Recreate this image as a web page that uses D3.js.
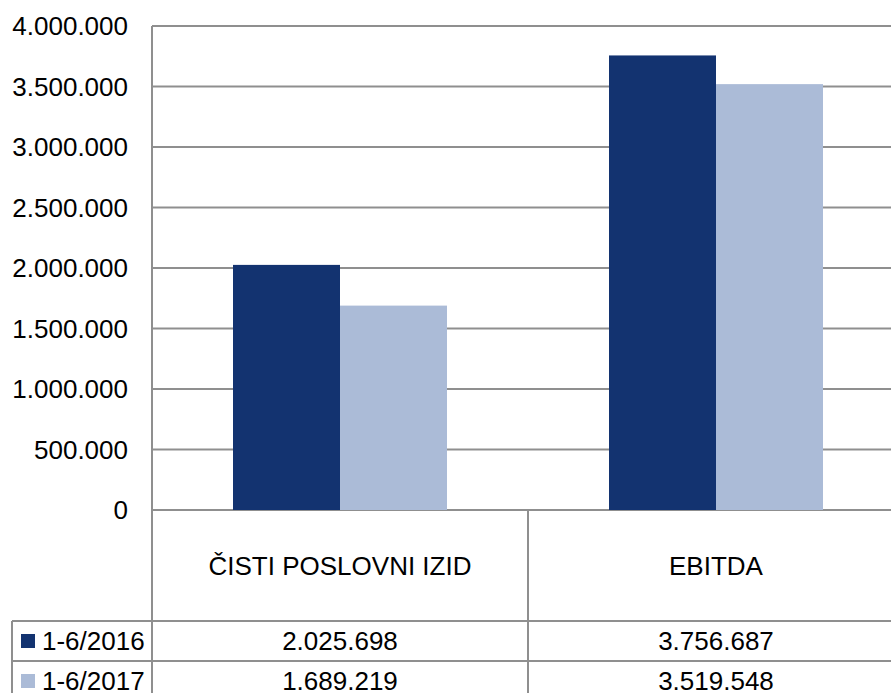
<!DOCTYPE html>
<html>
<head>
<meta charset="utf-8">
<script src="https://cdn.jsdelivr.net/npm/d3@7"></script>
<style>
  body { margin: 0; background: #fff; }
  text { font-family: "Liberation Sans", Arial, sans-serif; font-size: 26px; fill: #000; }
</style>
</head>
<body>
<svg id="chart" width="891" height="693"></svg>
<script>
const categories = ["ČISTI POSLOVNI IZID", "EBITDA"]
const series = ["1-6/2016", "1-6/2017"]
const values2016 = [2025698, 3756687]
const values2017 = [1689219, 3519548]
const yTicks = [0, 500000, 1000000, 1500000, 2000000, 2500000, 3000000, 3500000, 4000000]

const colors = ["#133370", "#abbbd7"]
const gridColor = "#8f8f8f"

const svg = d3.select("#chart")

const plotLeft = 152
const plotRight = 904
const plotTop = 26
const plotBottom = 510
const headerH = 111
const rowH = 40
const tableLeft = 12

const locale = d3.formatLocale({ decimal: ",", thousands: ".", grouping: [3], currency: ["", ""] })
const fmt = locale.format(",d")

const x = d3.scaleBand(categories, [plotLeft, plotRight])
const groupPad = 81
const x1 = d3.scaleBand(series, [groupPad, x.bandwidth() - groupPad])
const y = d3.scaleLinear([0, 4000000], [plotBottom, plotTop])

const rows = series.map((s, i) => ({ name: s, color: colors[i], values: i === 0 ? values2016 : values2017 }))

// gridlines
svg.append("g")
  .selectAll("line")
  .data(yTicks)
  .join("line")
  .attr("x1", plotLeft)
  .attr("x2", plotRight)
  .attr("y1", (d) => y(d))
  .attr("y2", (d) => y(d))
  .attr("stroke", gridColor)
  .attr("stroke-width", 2)

// y labels
svg.append("g")
  .selectAll("text")
  .data(yTicks)
  .join("text")
  .attr("x", 128)
  .attr("y", (d) => y(d))
  .attr("dy", "0.35em")
  .attr("text-anchor", "end")
  .text((d) => fmt(d))

// bars
svg.append("g")
  .selectAll("g")
  .data(rows)
  .join("g")
  .attr("fill", (d) => d.color)
  .selectAll("rect")
  .data((d) => d.values.map((v, i) => ({ cat: categories[i], s: d.name, v })))
  .join("rect")
  .attr("x", (d) => x(d.cat) + x1(d.s))
  .attr("width", x1.bandwidth())
  .attr("y", (d) => y(d.v))
  .attr("height", (d) => y(0) - y(d.v))

// data table
const table = svg.append("g").attr("stroke", gridColor).attr("stroke-width", 2).attr("fill", "none")
const tableBottom = plotBottom + headerH + rowH * rows.length

// vertical lines
table.selectAll("line.v")
  .data(categories.map((c) => x(c)).concat([plotRight]))
  .join("line")
  .attr("x1", (d) => d)
  .attr("x2", (d) => d)
  .attr("y1", plotTop)
  .attr("y2", tableBottom)
  .attr("y1", (d, i) => (i === 0 ? plotTop : plotBottom))
table.append("line")
  .attr("x1", tableLeft).attr("x2", tableLeft)
  .attr("y1", plotBottom + headerH).attr("y2", tableBottom)

// horizontal row lines
table.selectAll("line.h")
  .data(d3.range(rows.length + 1))
  .join("line")
  .attr("x1", tableLeft)
  .attr("x2", plotRight)
  .attr("y1", (i) => plotBottom + headerH + i * rowH)
  .attr("y2", (i) => plotBottom + headerH + i * rowH)

// category labels
svg.append("g")
  .selectAll("text")
  .data(categories)
  .join("text")
  .attr("x", (d) => x(d) + x.bandwidth() / 2)
  .attr("y", plotBottom + headerH / 2)
  .attr("dy", "0.35em")
  .attr("text-anchor", "middle")
  .text((d) => d)

// rows
const rowG = svg.append("g")
  .selectAll("g")
  .data(rows)
  .join("g")
  .attr("transform", (d, i) => `translate(0, ${plotBottom + headerH + i * rowH + rowH / 2})`)

rowG.append("rect")
  .attr("x", 21)
  .attr("y", -7)
  .attr("width", 14)
  .attr("height", 14)
  .attr("fill", (d) => d.color)

rowG.append("text")
  .attr("x", 42)
  .attr("dy", "0.35em")
  .text((d) => d.name)

rowG.selectAll("text.val")
  .data((d) => d.values.map((v, i) => ({ cat: categories[i], v })))
  .join("text")
  .attr("class", "val")
  .attr("x", (d) => x(d.cat) + x.bandwidth() / 2)
  .attr("dy", "0.35em")
  .attr("text-anchor", "middle")
  .text((d) => fmt(d.v))
</script>
</body>
</html>
